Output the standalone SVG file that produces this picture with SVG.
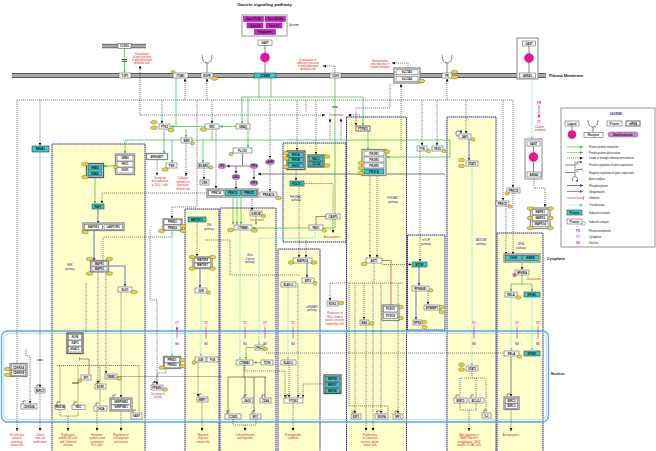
<svg xmlns="http://www.w3.org/2000/svg" width="656" height="451" viewBox="0 0 656 451">
<defs>
<style>
.p{fill:#fff;stroke:#555;stroke-width:.55}
.c{fill:#33cccc;stroke:#333;stroke-width:.55}
.gb{fill:#fff;stroke:#8a8a8a;stroke-width:1.3}
.gd{fill:#fff;stroke:#555;stroke-width:1.3}
.t{font-family:"Liberation Sans",Arial,sans-serif;font-size:2.7px;font-weight:bold;text-anchor:middle;fill:#111}
.ph{fill:#e8d52a;stroke:#555;stroke-width:.4}
.sm{fill:#d77ed7;stroke:#555;stroke-width:.4}
.mg{fill:#cc22cc;stroke:#771177;stroke-width:.5}
.r{font-family:"Liberation Sans",Arial,sans-serif;font-size:2.6px;fill:#e01818;text-anchor:middle}
.bl{font-family:"Liberation Sans",Arial,sans-serif;font-size:2.6px;fill:#2a2aa0;text-anchor:middle}
.cn{font-family:"Liberation Sans",Arial,sans-serif;font-size:2.6px;fill:#e010c8;text-anchor:middle;font-weight:bold}
.pw{fill:#ffffcc;stroke:#2e2e9a;stroke-width:1;stroke-dasharray:1.5 .5}
.d{fill:none;stroke:#222;stroke-width:.55;stroke-dasharray:1.2 .8}
.s{fill:none;stroke:#333;stroke-width:.6}
.gr{fill:none;stroke:#33bb33;stroke-width:.7}
.bu{fill:none;stroke:#2233bb;stroke-width:.7}
.cy{fill:none;stroke:#33dddd;stroke-width:.7;stroke-dasharray:1.2 .8}
.rd{fill:none;stroke:#e22;stroke-width:.7}
.mgl{fill:none;stroke:#e010c8;stroke-width:.7}
.lg{font-family:"Liberation Sans",Arial,sans-serif;font-size:2.6px;fill:#111}
.lab{font-family:"Liberation Sans",Arial,sans-serif;font-weight:bold;fill:#111}
</style>
<marker id="ab" viewBox="0 0 6 6" refX="6" refY="3" markerWidth="3" markerHeight="3" markerUnits="userSpaceOnUse" orient="auto"><path d="M0,0L6,3L0,6z" fill="#111"/></marker>
<marker id="as" viewBox="0 0 6 6" refX="6" refY="3" markerWidth="2" markerHeight="2" markerUnits="userSpaceOnUse" orient="auto"><path d="M0,0L6,3L0,6z" fill="#111"/></marker>
<marker id="ag" viewBox="0 0 6 6" refX="6" refY="3" markerWidth="3" markerHeight="3" markerUnits="userSpaceOnUse" orient="auto"><path d="M0,0L6,3L0,6z" fill="#33bb33"/></marker>
<marker id="au" viewBox="0 0 6 6" refX="6" refY="3" markerWidth="3" markerHeight="3" markerUnits="userSpaceOnUse" orient="auto"><path d="M0,0L6,3L0,6z" fill="#2233bb"/></marker>
<marker id="ac" viewBox="0 0 6 6" refX="6" refY="3" markerWidth="3" markerHeight="3" markerUnits="userSpaceOnUse" orient="auto"><path d="M0,0L6,3L0,6z" fill="#33dddd"/></marker>
<marker id="am" viewBox="0 0 6 6" refX="6" refY="3" markerWidth="3" markerHeight="3" markerUnits="userSpaceOnUse" orient="auto-start-reverse"><path d="M0,0L6,3L0,6z" fill="#e010c8"/></marker>
<marker id="tr" viewBox="0 0 2 8" refX="1" refY="4" markerWidth="1" markerHeight="4" markerUnits="userSpaceOnUse" orient="auto"><rect width="2" height="8" fill="#e22"/></marker>
</defs>
<rect width="656" height="451" fill="#fff"/>
<text class="lab" x="264.5" y="5.6" font-size="4.4" text-anchor="middle">Gastrin signaling pathway</text>

<g id="regions">
<rect class="pw" x="52" y="144" width="93" height="308"/>
<rect class="pw" x="185" y="209" width="34" height="243"/>
<rect class="pw" x="220" y="208" width="56" height="244"/>
<rect class="pw" x="278" y="249" width="42" height="203"/>
<rect class="pw" x="283" y="143" width="63" height="99"/>
<rect class="pw" x="346.5" y="117" width="60" height="335"/>
<rect class="pw" x="407.5" y="235" width="37.5" height="95"/>
<rect class="pw" x="447" y="117" width="49" height="335"/>
<rect class="pw" x="497" y="233" width="46" height="219"/>
</g>
<g id="region-labels">
<text class="bl" x="70" y="266">ERK</text><text class="bl" x="70" y="269.5">pathway</text>
<text class="bl" x="209" y="226">JNK</text><text class="bl" x="209" y="229.5">pathway</text>
<text class="bl" x="250" y="256">Beta</text><text class="bl" x="250" y="259.5">Catenin</text><text class="bl" x="250" y="263">pathway</text>
<text class="bl" x="296" y="197.5">RHO/RAC</text><text class="bl" x="296" y="201">pathway</text>
<text class="bl" x="312" y="307.5">p38MAPK</text><text class="bl" x="312" y="311">pathway</text>
<text class="bl" x="393" y="199">PI3K/AKT</text><text class="bl" x="393" y="202.5">pathway</text>
<text class="bl" x="426" y="241">mTOR</text><text class="bl" x="426" y="244.5">pathway</text>
<text class="bl" x="481" y="241">JAK/STAT</text><text class="bl" x="481" y="244.5">pathway</text>
<text class="bl" x="521" y="245">NFkB</text><text class="bl" x="521" y="248.5">pathway</text>
</g>

<g id="membrane">
<rect x="12" y="73.5" width="534" height="4" fill="#aaa"/>
<path d="M12,73.5H546M12,77.5H546" stroke="#222" stroke-width=".7"/>
<rect x="102" y="44.3" width="44" height="3.5" fill="#aaa"/>
<path d="M102,44.3H146M102,47.8H146" stroke="#222" stroke-width=".6"/>
<path class="s" d="M202,55Q202,63 207,63Q212,63 212,55M207,63V73"/>
<path class="s" d="M442,55Q442,63 447,63Q452,63 452,55M447,63V73"/>
<text class="lab" x="549" y="77.4" font-size="3.9">Plasma Membrane</text>
<text class="lab" x="547" y="259.5" font-size="3.5">Cytoplasm</text>
<text class="lab" x="551" y="374.5" font-size="3.5">Nucleus</text>
</g>

<g id="nucleus">
<rect x="1.5" y="331" width="547" height="91" rx="6" fill="none" stroke="#5aa6ea" stroke-width="1.3"/>
<rect x="3.8" y="333.3" width="542.4" height="86.4" rx="5" fill="none" stroke="#9fcdf2" stroke-width=".8"/>
</g>

<g id="connectors">
<path class="d" d="M17,100H513"/>
<path class="d" d="M17,100V431" marker-end="url(#ab)"/>
<path class="d" d="M40,100V145.5" marker-end="url(#ab)"/>
<path class="d" d="M40,152V387.5" marker-end="url(#ab)"/>
<path class="d" d="M40,393V431" marker-end="url(#ab)"/>
<path class="d" d="M26,349V356H30V403.5" marker-end="url(#ab)"/>
<path class="d" d="M162,100V123.5" marker-end="url(#ab)"/>
<path class="d" d="M185,100V78.5" marker-end="url(#ab)"/>
<path class="d" d="M207,100V78.5" marker-end="url(#ab)"/>
<path class="d" d="M140,115V65.5" marker-end="url(#ab)"/>
<path class="d" d="M140,115H325" marker-end="url(#ab)"/>
<path class="d" d="M360,115H348" marker-end="url(#ab)"/>
<path class="d" d="M330,140V118.5" marker-end="url(#ab)"/>
<path class="d" d="M341,140V118.5" marker-end="url(#ab)"/>
<path class="d" d="M197,100V207H172V218.5" marker-end="url(#ab)"/>
<path class="d" d="M204,168V179.5" marker-end="url(#ab)"/>
<path class="d" d="M212,100V123.5" marker-end="url(#ab)"/>
<path class="d" d="M216,129V188.5" marker-end="url(#ab)"/>
<path class="d" d="M157,159.5V175.5" marker-end="url(#ab)"/>
<path class="d" d="M186,143V176" marker-end="url(#ab)"/>
<path class="d" d="M270,100V158.5" marker-end="url(#ab)"/>
<path class="d" d="M270,165V191.5" marker-end="url(#ab)"/>
<path class="d" d="M297,100V150.5" marker-end="url(#ab)"/>
<path class="d" d="M316,100V154.5" marker-end="url(#ab)"/>
<path class="d" d="M296,169.5V180.5" marker-end="url(#ab)"/>
<path class="d" d="M299,186V257.5" marker-end="url(#ab)"/>
<path class="d" d="M306,100V112M306,240V257.5" marker-end="url(#ab)"/>
<path class="d" d="M333,219V233" marker-end="url(#ab)"/>
<path class="d" d="M252,197V210.5" marker-end="url(#ab)"/>
<path class="d" d="M207,193H102V203.5" marker-end="url(#ab)"/>
<path class="d" d="M103,260V237H172V230.5"/>
<path class="d" d="M197,222V256.5" marker-end="url(#ab)"/>
<path class="d" d="M205,240H230V275H300"/>
<path class="d" d="M401,150V84" marker-end="url(#ab)"/>
<path class="d" d="M408,68V63H392" marker-end="url(#ab)"/>
<path class="d" d="M335,73V66H323" marker-end="url(#ab)"/>
<path class="d" d="M390,84V108H356V125.5" marker-end="url(#ab)"/>
<path class="d" d="M422,100V145.5" marker-end="url(#ab)"/>
<path class="d" d="M437,100V145.5" marker-end="url(#ab)"/>
<path class="d" d="M447,100V78.5" marker-end="url(#ab)"/>
<path class="d" d="M466,100V133.5" marker-end="url(#ab)"/>
<path class="d" d="M420,151V261.5" marker-end="url(#ab)"/>
<path class="d" d="M370,176V257.5" marker-end="url(#ab)"/>
<path class="d" d="M377,176V257.5" marker-end="url(#ab)"/>
<path class="d" d="M382,264.5H411.5" marker-end="url(#ab)"/>
<path class="d" d="M374,263V283M330,283H403"/>
<path class="d" d="M330,283V300.5" marker-end="url(#ab)"/>
<path class="d" d="M355,283V413.5" marker-end="url(#ab)"/>
<path class="d" d="M364,283V319.5" marker-end="url(#ab)"/>
<path class="d" d="M381,283V413.5" marker-end="url(#ab)"/>
<path class="d" d="M398,283V304.5M398,321V413.5" marker-end="url(#ab)"/>
<path class="d" d="M366,325V431" marker-end="url(#ab)"/>
<path class="d" d="M373,283V431" marker-end="url(#ab)"/>
<path class="d" d="M349,283V406H388V413.5"/>
<path class="d" d="M428,291V304.5" marker-end="url(#ab)"/>
<path class="d" d="M503,100V200.5" marker-end="url(#ab)"/>
<path class="d" d="M513,100V187.5" marker-end="url(#ab)"/>
<path class="d" d="M513,193V254.5" marker-end="url(#ab)"/>
<path class="d" d="M506,206V254.5" marker-end="url(#ab)"/>
<path class="d" d="M534,177V188H545V207" marker-end="url(#ab)"/>
<path class="d" d="M522,260.5V269.5" marker-end="url(#ab)"/>
<path class="d" d="M511,409.5V431" marker-end="url(#ab)"/>
<path class="d" d="M266,353H503.5"/>
<path class="d" d="M472,371V378M460,378H486M460,378V397.5M476,378V397.5M486,378V412.5"/>
<path class="d" d="M460,403V410H476V403M469,410V431" marker-end="url(#ab)"/>
<path class="d" d="M198,362.5V396.5" marker-end="url(#ab)"/>
<path class="d" d="M202,402.5V431" marker-end="url(#ab)"/>
<path class="d" d="M117.5,376.5H222"/>
<path class="d" d="M98,273V383.5" marker-end="url(#ab)"/>
<path class="d" d="M106,273V373.5" marker-end="url(#ab)"/>
<path class="d" d="M121,292.5V397.5" marker-end="url(#ab)"/>
<path class="d" d="M57,365.5H139M60,365.5V404.5M78,365.5V404.5M100,365.5V405.5M139,365.5V412.5"/>
<path class="d" d="M60,410V416H78V410M68,416V431" marker-end="url(#ab)"/>
<path class="d" d="M97,411V431" marker-end="url(#ab)"/>
<path class="d" d="M121,411V431" marker-end="url(#ab)"/>
<path class="d" d="M166,368.5V373H157V384.5" marker-end="url(#ab)"/>
<path class="d" d="M298,283V397.5" marker-end="url(#ab)"/>
<path class="d" d="M289,365V397.5" marker-end="url(#ab)"/>
<path class="d" d="M245,365V371H285V397.5" marker-end="url(#ab)"/>
<path class="d" d="M324,384H303V397.5" marker-end="url(#ab)"/>
<path class="d" d="M293,403V431" marker-end="url(#ab)"/>
<path class="d" d="M233,419V425H256V419M245,425V431" marker-end="url(#ab)"/>
<path class="d" d="M86,283V333"/>
<path class="d" d="M150,230V300H157V384"/>
<path class="s" d="M242.5,153V166M250,166H226.5" marker-end="url(#ab)"/>
<path class="s" d="M236,166V173.5" marker-end="url(#ab)"/>
<path class="s" d="M254,169V179.5" marker-end="url(#ab)"/>
<path class="s" d="M236,180.5V189.5" marker-end="url(#ab)"/>
<path d="M445,174H258" fill="none" stroke="#555" stroke-width=".8" marker-end="url(#ab)"/>
<path class="s" d="M244,365V377M228,377H266M228,377V413.5M245,377V397.5M254,377V413.5M265,377V397.5"/>
<path class="s" d="M511,356.5V396.5" marker-end="url(#ab)"/>
<path d="M122,59.5H127M122,61.3H127M332,107H338M37,360H43M72,383H79" stroke="#111" stroke-width=".8"/>
<path class="gr" d="M124.5,48.5V72.5" marker-end="url(#ag)"/>
<path class="gr" d="M259,78V97M271,78V97M241,97H363"/>
<path class="gr" d="M242,97V123.5" marker-end="url(#ag)"/>
<path class="gr" d="M248,97V147.5" marker-end="url(#ag)"/>
<path class="gr" d="M363,97V125.5" marker-end="url(#ag)"/>
<path class="gr" d="M368,131V150.5" marker-end="url(#ag)"/>
<path class="gr" d="M176,78V126.5H170.5" marker-end="url(#ag)"/>
<path class="gr" d="M205,126.5H176"/>
<path class="gr" d="M236,126.5H219.5" marker-end="url(#ag)"/>
<path class="gr" d="M212,129V140M125,140H450"/>
<path class="gr" d="M125,140V153.5" marker-end="url(#ag)"/>
<path class="gr" d="M172,140V162.5" marker-end="url(#ag)"/>
<path class="gr" d="M203,140V162.5" marker-end="url(#ag)"/>
<path class="gr" d="M186,129V137.5" marker-end="url(#ag)"/>
<path class="gr" d="M164,129.5V153.5" marker-end="url(#ag)"/>
<path class="gr" d="M450,140V157H386.5" marker-end="url(#ag)"/>
<path class="gr" d="M116,166H103.5" marker-end="url(#ag)"/>
<path class="gr" d="M95,177.5V203.5" marker-end="url(#ag)"/>
<path class="gr" d="M335,78V228H252.5" marker-end="url(#ag)"/>
<path class="gr" d="M233,196V224.5" marker-end="url(#ag)"/>
<path class="gr" d="M237,196V224.5" marker-end="url(#ag)"/>
<path class="gr" d="M241,196V224.5" marker-end="url(#ag)"/>
<path class="gr" d="M256,216.5V224.5" marker-end="url(#ag)"/>
<path class="gr" d="M522,275V284M511,284H532"/>
<path class="gr" d="M511,284V291.5" marker-end="url(#ag)"/>
<path class="gr" d="M532,284V291.5" marker-end="url(#ag)"/>
<path class="gr" d="M261,362.5H253.5" marker-end="url(#ag)"/>
<path class="gr" d="M255,347.5H246V359.5" marker-end="url(#ag)"/>
<path class="bu" d="M98,209V223.5" marker-end="url(#au)"/>
<path class="bu" d="M94,229.8V261" marker-end="url(#au)"/>
<path class="bu" d="M109,266H125V286.5" marker-end="url(#au)"/>
<path class="bu" d="M200,268V287.5" marker-end="url(#au)"/>
<path class="bu" d="M307,263V277.5" marker-end="url(#au)"/>
<path class="bu" d="M419,267V285.5" marker-end="url(#au)"/>
<path class="bu" d="M416,291V319.5" marker-end="url(#au)"/>
<path class="bu" d="M469,139V160.5" marker-end="url(#au)"/>
<path class="bu" d="M459,136A2.6,2.6 0 1,1 461,133.5" marker-end="url(#au)"/>
<path class="rd" d="M316,225V216.5H325" marker-end="url(#tr)"/>
<path class="rd" d="M304,183.5H333V212.5" stroke-dasharray="1 .7"/>
<path class="rd" d="M382,260.5H391V304" marker-end="url(#tr)"/>
<path class="rd" d="M89,374.5V359H79" marker-end="url(#tr)"/>
<path class="cy" d="M532,80V139.5" marker-end="url(#ac)"/>
<path class="cy" d="M172,231V356.5" marker-end="url(#ac)"/>
<path class="cy" d="M201,293V356.5" marker-end="url(#ac)"/>
<path class="cy" d="M240,231V359.5" marker-end="url(#ac)"/>
<path class="cy" d="M315,230V238H259V344.5" marker-end="url(#ac)"/>
<path class="cy" d="M288,287V359.5" marker-end="url(#ac)"/>
<path class="cy" d="M472,166V365.5" marker-end="url(#ac)"/>
<path class="cy" d="M511,297.5V350.5" marker-end="url(#ac)"/>
<path class="cy" d="M532,297V350.5" marker-end="url(#ac)"/>
<path class="mgl" d="M177,326.5V338.5M206,326.5V338.5M245,326.5V338.5M265,326.5V338.5M293,326.5V338.5M474,326.5V338.5M517,326.5V338.5M538,326.5V338.5M539,105V118" marker-start="url(#am)" marker-end="url(#am)"/>
<path class="s" d="M57,405V402H60M74,405V402H77M96,406V403H99M113,398V395H116M133,413V410H136M97,384V381H100M23,404V401H26M37,388V385H40M244,398V395H247M262,398V395H265M227,414V411H230M252,414V411H255M286,398V395H289M353,414V411H356M377,414V411H380M395,414V411H398M456,398V395H459M471,398V395H474M484,413V410H487M507,397V394H510M199,397V394H202M153,385V382H156" marker-end="url(#as)"/>
</g>

<g id="notes">
<text class="r" x="142" y="55">Dissociation</text><text class="r" x="142" y="58">of tight junctions</text><text class="r" x="142" y="61">in gastrointestinal</text><text class="r" x="142" y="64">epithelial cells</text>
<text class="r" x="308" y="61">Dissociation of</text><text class="r" x="308" y="64">adherens junctions</text><text class="r" x="308" y="67">in gastrointestinal</text><text class="r" x="308" y="70">epithelial cells</text>
<text class="r" x="380" y="62">Internalization</text><text class="r" x="380" y="65">and reduction in</text><text class="r" x="380" y="68">sodium transport</text>
<text class="r" x="336.5" y="116">Dissociation</text>
<text class="r" x="540" y="127.5">Clathrin-</text><text class="r" x="540" y="130.5">mediated</text>
<text class="r" x="160" y="178.5">Increased</text><text class="r" x="160" y="182">focal adhesion</text><text class="r" x="160" y="185.5">in DLD-1 cells</text>
<text class="r" x="183" y="179">Collagen</text><text class="r" x="183" y="182.5">synthesis in</text><text class="r" x="183" y="186">pancreatic</text><text class="r" x="183" y="189.5">stellate cells</text>
<text class="r" x="332" y="237.5">Anti-apoptosis</text>
<text class="r" x="257" y="220.5">Dissociation</text>
<text class="r" x="534" y="279.5">Dissociation</text>
<text class="r" x="335" y="314">Production of</text><text class="r" x="335" y="317.5">Nitric Oxide in</text><text class="r" x="335" y="321">gastric secretory</text><text class="r" x="335" y="324.5">endothelial cells</text>
<text class="r" x="158" y="394.5">Decrease in</text><text class="r" x="158" y="398">activity</text>
<text class="r" x="17" y="435.5">G1 cell cycle</text><text class="r" x="17" y="439">arrest in</text><text class="r" x="17" y="442.5">pancreatic</text><text class="r" x="17" y="446">acinar cells</text>
<text class="r" x="40" y="435.5">Colonic</text><text class="r" x="40" y="439">stem cell</text><text class="r" x="40" y="442.5">proliferation</text>
<text class="r" x="68" y="435.5">Proliferation</text><text class="r" x="68" y="439">in AGS-GR cells</text><text class="r" x="68" y="442.5">and Colorectal</text><text class="r" x="68" y="446">mucosa</text>
<text class="r" x="97" y="435.5">Histamine</text><text class="r" x="97" y="439">synthesis and</text><text class="r" x="97" y="442.5">secretion in</text><text class="r" x="97" y="446">ECL cells</text>
<text class="r" x="121" y="435.5">Regulation of</text><text class="r" x="121" y="439">cell migration</text><text class="r" x="121" y="442.5">and invasion</text>
<text class="r" x="203" y="435.5">Migration</text><text class="r" x="203" y="439">of gastric</text><text class="r" x="203" y="442.5">cancer cells</text>
<text class="r" x="245" y="435.5">Cell proliferation</text><text class="r" x="245" y="439">and migration</text>
<text class="r" x="293" y="435.5">Prostaglandin</text><text class="r" x="293" y="439">synthesis</text>
<text class="r" x="370" y="435.5">Proliferation</text><text class="r" x="370" y="439">in Colorectal</text><text class="r" x="370" y="442.5">mucosa, gastric</text><text class="r" x="370" y="446">cancer cells</text>
<text class="r" x="469" y="435.5">Anti-apoptosis in</text><text class="r" x="469" y="439">WEHI7 Barrett's</text><text class="r" x="469" y="442.5">oesophageal, OE33</text><text class="r" x="469" y="446">and BIC-1 OAC cells</text>
<text class="r" x="511" y="435.5">Anti-apoptosis</text>
<text class="cn" x="177" y="324">CY</text><text class="cn" x="177" y="344.5">NU</text>
<text class="cn" x="206" y="324">CY</text><text class="cn" x="206" y="344.5">NU</text>
<text class="cn" x="245" y="324">CY</text><text class="cn" x="245" y="344.5">NU</text>
<text class="cn" x="265" y="324">CY</text><text class="cn" x="265" y="344.5">NU</text>
<text class="cn" x="293" y="324">CY</text><text class="cn" x="293" y="344.5">NU</text>
<text class="cn" x="474" y="324">CY</text><text class="cn" x="474" y="344.5">NU</text>
<text class="cn" x="517" y="324">CY</text><text class="cn" x="517" y="344.5">NU</text>
<text class="cn" x="538" y="324">CY</text><text class="cn" x="538" y="344.5">NU</text>
<text class="cn" x="539" y="104">PM</text><text class="cn" x="539" y="123">CY</text>
</g>

<g id="nodes">
<g id="gastrin"><rect x="242" y="15" width="45" height="21" fill="#fff" stroke="#999" stroke-width="1"/>
<rect class="mg" x="243.5" y="16.5" width="20" height="5"/><text class="t" x="253.5" y="20">Gast-17-Gly</text>
<rect class="mg" x="265" y="16.5" width="20.5" height="5"/><text class="t" x="275.2" y="20">Gast-34-Gly</text>
<rect class="mg" x="247" y="23" width="16" height="5"/><text class="t" x="255" y="26.5">Gast-34</text>
<rect class="mg" x="266" y="23" width="16" height="5"/><text class="t" x="274" y="26.5">Gast-17</text>
<rect class="mg" x="254.5" y="29.5" width="21" height="5"/><text class="t" x="265" y="33">Progastrin</text>
<text class="lg" x="289" y="26.3" font-size="3">Gastrine</text></g>
<g id="n-GAST"><rect class="p" x="258" y="40" width="14" height="5.5"/><text class="t" x="265" y="43.8">GAST</text>
<path class="s" d="M265,45.5V53M265,62V73.5"/><circle cx="265" cy="57.5" r="4.5" fill="#ee1199" stroke="#aa0066" stroke-width=".4"/></g>
<g id="n-CCKBR"><rect class="c" x="254" y="73" width="22" height="5"/><text class="t" x="265" y="76.5">CCKBR</text></g>
<g id="n-CLDN1"><rect class="p" x="118" y="43.5" width="13" height="5"/><text class="t" x="124.5" y="47">CLDN1</text></g>
<g id="n-TJP1"><rect class="p" x="119" y="73" width="12" height="5"/><text class="t" x="125" y="76.5">TJP1</text></g>
<g id="n-ITGB1"><rect class="p" x="173" y="73" width="15" height="5"/><text class="t" x="180.5" y="76.5">ITGB1</text><ellipse class="ph" cx="173" cy="72" rx="2" ry="1.8"/></g>
<g id="n-EGFR"><rect class="p" x="201" y="73" width="12" height="5"/><text class="t" x="207" y="76.5">EGFR</text><ellipse class="ph" cx="214.5" cy="78.5" rx="3.5" ry="1.8"/></g>
<g id="n-CDH1"><rect class="p" x="330" y="73" width="11" height="5"/><text class="t" x="335.5" y="76.5">CDH1</text></g>
<g id="n-SLC"><rect class="gb" x="394" y="68" width="26" height="15"/><rect class="p" x="396" y="69.8" width="22" height="5"/><text class="t" x="407" y="73.3">SLC5A1</text><rect class="p" x="396" y="76.2" width="22" height="5"/><text class="t" x="407" y="79.7">SLC5A2</text><ellipse class="ph" cx="421.5" cy="81" rx="3.5" ry="1.8"/></g>
<g id="n-FR"><rect class="p" x="442" y="73" width="10" height="5"/><text class="t" x="447" y="76.5">FR</text><ellipse class="ph" cx="454.5" cy="72" rx="3.5" ry="1.8"/><ellipse class="ph" cx="454.5" cy="77" rx="3.5" ry="1.8"/></g>
<g id="n-ANXA2"><rect x="517" y="38" width="21" height="41" fill="#fff" stroke="#888" stroke-width="1"/><rect class="p" x="522.5" y="41" width="13" height="5"/><text class="t" x="529" y="44.5">GAST</text>
<path class="s" d="M529,46V53.5M529,62.5V73"/><circle cx="529" cy="58" r="4.5" fill="#ee1199" stroke="#aa0066" stroke-width=".4"/>
<rect class="p" x="519.5" y="73" width="16" height="5"/><text class="t" x="527.5" y="76.5">ANXA2</text></g>

<g id="n-NR4A1"><rect class="c" x="32" y="146" width="17" height="6"/><text class="t" x="40.5" y="150">NR4A1</text></g>
<g id="n-RAS"><rect class="gd" x="86.5" y="163.5" width="17" height="14"/><rect class="c" x="88" y="165" width="14" height="5"/><text class="t" x="95" y="168.5">HRAS</text><rect class="c" x="88" y="171" width="14" height="5"/><text class="t" x="95" y="174.5">KRAS</text><ellipse class="ph" cx="85" cy="164" rx="3.3" ry="1.8"/><ellipse class="ph" cx="85" cy="177" rx="3.3" ry="1.8"/></g>
<g id="n-GRB2"><rect class="gb" x="115.5" y="154" width="19" height="20.5"/><rect class="p" x="117" y="155.5" width="16" height="5.5"/><text class="t" x="125" y="159.2">GRB2</text><rect class="p" x="117" y="161.5" width="16" height="5.5"/><text class="t" x="125" y="165.2">SHC1</text><rect class="p" x="117" y="167.5" width="16" height="5.5"/><text class="t" x="125" y="171.2">SOS1</text><ellipse class="ph" cx="115.5" cy="167" rx="2" ry="1.8"/></g>
<g id="n-RAF1"><rect class="c" x="92" y="204" width="12" height="5"/><text class="t" x="98" y="207.5">RAF1</text></g>
<g id="n-MAP2K1"><rect class="gb" x="83" y="223" width="41" height="7.5"/><rect class="p" x="84.5" y="224.3" width="18" height="5"/><text class="t" x="93.5" y="227.8">MAP2K1</text><rect class="p" x="104" y="224.3" width="18.5" height="5"/><text class="t" x="113.2" y="227.8">LAMTOR3</text><ellipse class="ph" cx="85" cy="232" rx="3.3" ry="1.8"/></g>
<g id="n-MAPK"><rect class="gb" x="90.5" y="260.5" width="18" height="11.5"/><rect class="p" x="92" y="261.5" width="15" height="4.5"/><text class="t" x="99.5" y="264.8">MAPK1</text><rect class="p" x="92" y="266.5" width="15" height="4.5"/><text class="t" x="99.5" y="269.8">MAPK3</text><ellipse class="ph" cx="89.5" cy="259" rx="3.3" ry="1.8"/><ellipse class="ph" cx="109.5" cy="259" rx="3.3" ry="1.8"/><ellipse class="ph" cx="89.5" cy="273.5" rx="3.3" ry="1.8"/><ellipse class="ph" cx="109.5" cy="273.5" rx="3.3" ry="1.8"/></g>
<g id="n-ELK1"><rect class="p" x="118" y="287" width="14" height="5"/><text class="t" x="125" y="290.5">ELK1</text><ellipse class="ph" cx="134" cy="292" rx="3.3" ry="1.8"/></g>
<g id="n-PTK2"><rect class="p" x="159" y="124" width="11" height="5"/><text class="t" x="164.5" y="127.5">PTK2</text><ellipse class="ph" cx="154" cy="122.3" rx="3.3" ry="1.8"/><ellipse class="ph" cx="154" cy="127.7" rx="3.3" ry="1.8"/><ellipse class="ph" cx="171" cy="130" rx="3.3" ry="1.8"/></g>
<g id="n-BMX"><rect class="p" x="181" y="138" width="11" height="5"/><text class="t" x="186.5" y="141.5">BMX</text><ellipse class="ph" cx="192.5" cy="143.5" rx="2" ry="1.8"/></g>
<g id="n-SRC"><rect class="p" x="205" y="124" width="14" height="5"/><text class="t" x="212" y="127.5">SRC</text><ellipse class="ph" cx="203.5" cy="129.5" rx="3.3" ry="1.8"/></g>
<g id="n-ARHGEF7"><rect class="gb" x="146.5" y="153.5" width="21" height="6"/><text class="t" x="157" y="157.5">ARHGEF7</text></g>
<g id="n-PXN"><rect class="p" x="166" y="163" width="11" height="5"/><text class="t" x="171.5" y="166.5">PXN</text><ellipse class="ph" cx="165" cy="169.5" rx="3.3" ry="1.8"/></g>
<g id="n-BCAR1"><rect class="p" x="198" y="163" width="11" height="5"/><text class="t" x="203.5" y="166.5">BCAR1</text><ellipse class="ph" cx="211" cy="167.5" rx="2" ry="1.8"/></g>
<g id="n-CRK"><rect class="p" x="200" y="180" width="9" height="5"/><text class="t" x="204.5" y="183.5">CRK</text></g>
<g id="n-GNAQ"><rect class="p" x="236" y="124" width="14" height="5"/><text class="t" x="243" y="127.5">GNAQ</text></g>
<g id="n-PLCG1"><rect class="p" x="233" y="148" width="19" height="5"/><text class="t" x="242.5" y="151.5">PLCG1</text><ellipse class="ph" cx="231" cy="154" rx="2" ry="1.8"/></g>
<g id="n-IP3"><ellipse class="sm" cx="222" cy="166" rx="4" ry="2.6"/><text class="t" x="222" y="167">IP3</text></g>
<g id="n-PIP2"><ellipse class="sm" cx="254" cy="166" rx="4" ry="2.6"/><text class="t" x="254" y="167">PIP2</text></g>
<g id="n-DAG"><ellipse class="sm" cx="236" cy="177" rx="4" ry="2.6"/><text class="t" x="236" y="178">DAG</text></g>
<g id="n-PIP3"><ellipse class="sm" cx="254" cy="183" rx="4" ry="2.6"/><text class="t" x="254" y="184">PIP3</text></g>
<g id="n-cAMP"><ellipse class="sm" cx="270" cy="162" rx="4.5" ry="2.8"/><text class="t" x="270" y="163">cAMP</text></g>
<g id="n-PRKC"><rect class="gb" x="207" y="189" width="51" height="8"/><rect class="p" x="208.5" y="190.5" width="15.5" height="5"/><text class="t" x="216.2" y="194">PRKCA</text><rect class="c" x="225" y="190.5" width="15.5" height="5"/><text class="t" x="232.7" y="194">PRKCD</text><rect class="c" x="241.5" y="190.5" width="15.5" height="5"/><text class="t" x="249.2" y="194">PRKCE</text></g>
<g id="n-PRKACA"><rect class="p" x="260" y="192" width="17" height="5"/><text class="t" x="268.5" y="195.5">PRKACA</text><ellipse class="ph" cx="278.5" cy="198" rx="3" ry="1.8"/></g>
<g id="n-RHO"><rect class="gd" x="287" y="151" width="18" height="18.5"/><rect class="c" x="288.5" y="152.5" width="15" height="4.8"/><text class="t" x="296" y="155.9">RHOA</text><rect class="c" x="288.5" y="157.8" width="15" height="4.8"/><text class="t" x="296" y="161.2">RHOB</text><rect class="c" x="288.5" y="163.1" width="15" height="4.8"/><text class="t" x="296" y="166.5">RHOC</text><ellipse class="ph" cx="286" cy="153" rx="3" ry="1.8"/><ellipse class="ph" cx="286" cy="158.5" rx="3" ry="1.8"/><ellipse class="ph" cx="286" cy="167" rx="3" ry="1.8"/></g>
<g id="n-RAC1"><rect class="gd" x="308" y="155" width="16" height="12"/><rect class="c" x="309.5" y="156.5" width="13" height="4.5"/><text class="t" x="316" y="159.8">RAC1</text><rect class="c" x="309.5" y="161.5" width="13" height="4.5"/><text class="t" x="316" y="164.8">CDC42</text><ellipse class="ph" cx="327" cy="156.5" rx="3" ry="1.8"/><ellipse class="ph" cx="327" cy="165.5" rx="3" ry="1.8"/></g>
<g id="n-ROCK1"><rect class="c" x="290" y="181" width="14" height="5"/><text class="t" x="297" y="184.5">ROCK1</text></g>
<g id="n-CASP3"><rect class="p" x="326" y="214" width="14" height="5"/><text class="t" x="333" y="217.5">CASP3</text></g>
<g id="n-PAK1"><rect class="p" x="309" y="225" width="14" height="5"/><text class="t" x="316" y="228.5">PAK1</text><ellipse class="ph" cx="324.5" cy="230.5" rx="2" ry="1.8"/></g>
<g id="n-PTPN11"><rect class="gb" x="356" y="126" width="14" height="5"/><text class="t" x="363" y="129.5">PTPN11</text></g>
<g id="n-PIK3"><rect class="gb" x="362" y="149.5" width="24" height="26"/><rect class="p" x="364" y="151" width="20" height="5"/><text class="t" x="374" y="154.5">PIK3R1</text><rect class="p" x="364" y="157" width="20" height="5"/><text class="t" x="374" y="160.5">PIK3R2</text><rect class="p" x="364" y="163" width="20" height="5"/><text class="t" x="374" y="166.5">PIK3R3</text><rect class="c" x="364" y="169" width="20" height="5"/><text class="t" x="374" y="172.5">PIK3CA</text><ellipse class="ph" cx="387" cy="151.5" rx="3" ry="1.8"/><ellipse class="ph" cx="361" cy="163" rx="3" ry="1.8"/><ellipse class="ph" cx="361" cy="168" rx="3" ry="1.8"/><ellipse class="ph" cx="361" cy="173" rx="3" ry="1.8"/></g>
<g id="n-AKT1"><rect class="p" x="366" y="258" width="16" height="5"/><text class="t" x="374" y="261.5">AKT1</text><ellipse class="ph" cx="364" cy="264" rx="3" ry="1.8"/></g>
<g id="n-FYN"><rect class="p" x="417" y="146" width="10" height="5"/><text class="t" x="422" y="149.5">FYN</text><ellipse class="ph" cx="428.5" cy="151" rx="2" ry="1.8"/></g>
<g id="n-YES1"><rect class="p" x="432" y="146" width="11" height="5"/><text class="t" x="437.5" y="149.5">YES1</text><ellipse class="ph" cx="444" cy="151" rx="2" ry="1.8"/></g>
<g id="n-JAK1"><rect class="p" x="459" y="134" width="12" height="5"/><text class="t" x="465" y="137.5">JAK1</text><ellipse class="ph" cx="473" cy="139.5" rx="2" ry="1.8"/></g>
<g id="n-STAT3"><rect class="p" x="466" y="161" width="12" height="5"/><text class="t" x="472" y="164.5">STAT3</text><ellipse class="ph" cx="461.5" cy="160" rx="3" ry="1.8"/><ellipse class="ph" cx="461.5" cy="166" rx="3" ry="1.8"/></g>
<g id="n-MTOR"><rect class="c" x="412" y="262" width="15" height="5"/><text class="t" x="419.5" y="265.5">MTOR</text></g>
<g id="n-RPS6KB1"><rect class="p" x="412" y="286" width="17" height="5"/><text class="t" x="420.5" y="289.5">RPS6KB1</text><ellipse class="ph" cx="431" cy="290.5" rx="2" ry="1.8"/></g>
<g id="n-EIF4EBP1"><rect class="p" x="424" y="305" width="16" height="5"/><text class="t" x="432" y="308.5">EIF4EBP1</text><ellipse class="ph" cx="441.5" cy="307" rx="2.5" ry="1.8"/><ellipse class="ph" cx="441.5" cy="312" rx="2.5" ry="1.8"/></g>
<g id="n-RPS6"><rect class="p" x="413" y="320" width="9" height="5"/><text class="t" x="417.5" y="323.5">RPS6</text><ellipse class="ph" cx="424.5" cy="322" rx="2.5" ry="1.8"/><ellipse class="ph" cx="424.5" cy="327" rx="2.5" ry="1.8"/></g>
<g id="n-PRKCE2"><rect class="p" x="507" y="188" width="13" height="5"/><text class="t" x="513.5" y="191.5">PRKCE</text><ellipse class="ph" cx="507" cy="193.5" rx="2" ry="1.8"/></g>
<g id="n-PRKCD2"><rect class="p" x="496" y="201" width="13" height="5"/><text class="t" x="502.5" y="204.5">PRKCD</text><ellipse class="ph" cx="510" cy="206.5" rx="2" ry="1.8"/></g>
<g id="n-MAPKs"><rect class="gb" x="530.5" y="208" width="19.5" height="20.5"/><rect class="p" x="532.5" y="209.5" width="15.5" height="5"/><text class="t" x="540.2" y="213">MAPK1</text><rect class="p" x="532.5" y="215.5" width="15.5" height="5"/><text class="t" x="540.2" y="219">MAPK3</text><rect class="p" x="532.5" y="221.5" width="15.5" height="5"/><text class="t" x="540.2" y="225">MAPK14</text><ellipse class="ph" cx="530" cy="208.5" rx="3" ry="1.8"/><ellipse class="ph" cx="550.5" cy="208.5" rx="3" ry="1.8"/><ellipse class="ph" cx="530" cy="218" rx="3" ry="1.8"/><ellipse class="ph" cx="550.5" cy="218" rx="3" ry="1.8"/><ellipse class="ph" cx="530" cy="228" rx="3" ry="1.8"/><ellipse class="ph" cx="550.5" cy="228" rx="3" ry="1.8"/></g>
<g id="n-GAST2"><rect x="525" y="139" width="17" height="40" fill="#fff" stroke="#888" stroke-width="1"/><rect class="p" x="527" y="141" width="13" height="5"/><text class="t" x="533.5" y="144.5">GAST</text>
<path class="s" d="M533.5,146V152.5M533.5,161.5V172"/><circle cx="533.5" cy="157" r="4.5" fill="#ee1199" stroke="#aa0066" stroke-width=".4"/>
<rect class="p" x="527" y="172" width="14" height="5"/><text class="t" x="534" y="175.5">ANXA2</text></g>
<g id="n-IKK"><rect class="gb" x="504" y="254" width="36" height="8"/><rect class="c" x="505.5" y="255.5" width="16" height="5"/><text class="t" x="513.5" y="259">CHUK</text><rect class="c" x="522.5" y="255.5" width="16" height="5"/><text class="t" x="530.5" y="259">IKBKB</text></g>
<g id="n-NFKBIA"><rect class="p" x="515" y="270" width="14" height="5"/><text class="t" x="522" y="273.5">NFKBIA</text><circle cx="514.5" cy="275" r="1.8" fill="#c070c0" stroke="#555" stroke-width=".4"/></g>
<g id="n-RELA"><rect class="p" x="505" y="292" width="12" height="5"/><text class="t" x="511" y="295.5">RELA</text><ellipse class="ph" cx="518.5" cy="297.5" rx="2.5" ry="1.8"/></g>
<g id="n-NFKB1"><rect class="c" x="524" y="292" width="16" height="5"/><text class="t" x="532" y="295.5">NFKB1</text></g>
<g id="n-PRKD"><rect class="gb" x="163" y="219" width="19" height="11"/><rect class="p" x="164" y="219.5" width="17" height="5"/><text class="t" x="172.5" y="223">PRKD1</text><rect class="p" x="164" y="225" width="17" height="5"/><text class="t" x="172.5" y="228.5">PRKD2</text><ellipse class="ph" cx="161.5" cy="231" rx="3" ry="1.8"/><ellipse class="ph" cx="183" cy="226" rx="3" ry="1.8"/><ellipse class="ph" cx="183" cy="231" rx="3" ry="1.8"/></g>
<g id="n-MAP3K11"><rect class="c" x="188" y="217" width="18" height="5"/><text class="t" x="197" y="220.5">MAP3K11</text></g>
<g id="n-MAP2K4"><rect class="gb" x="193" y="257" width="19" height="11.5"/><rect class="p" x="194.5" y="258" width="16" height="4.7"/><text class="t" x="202.5" y="261.4">MAP2K4</text><rect class="p" x="194.5" y="263" width="16" height="4.7"/><text class="t" x="202.5" y="266.4">MAP2K7</text><ellipse class="ph" cx="192" cy="257" rx="3" ry="1.8"/><ellipse class="ph" cx="212.5" cy="257" rx="3" ry="1.8"/><ellipse class="ph" cx="192" cy="268.5" rx="3" ry="1.8"/><ellipse class="ph" cx="212.5" cy="268.5" rx="3" ry="1.8"/></g>
<g id="n-JUN"><rect class="p" x="195" y="288" width="12" height="5"/><text class="t" x="201" y="291.5">JUN</text><ellipse class="ph" cx="208.5" cy="292.5" rx="2" ry="1.8"/></g>
<g id="n-GSK3B"><rect class="p" x="250" y="211" width="12" height="5"/><text class="t" x="256" y="214.5">GSK3B</text><ellipse class="ph" cx="263.5" cy="216" rx="2" ry="1.8"/></g>
<g id="n-CTNNB1"><rect class="p" x="234" y="225" width="18" height="5"/><text class="t" x="243" y="228.5">CTNNB1</text><ellipse class="ph" cx="230.5" cy="230" rx="3" ry="1.8"/><ellipse class="ph" cx="254.5" cy="230.5" rx="3" ry="1.8"/></g>
<g id="n-MAPK14"><rect class="p" x="293" y="258" width="19" height="5"/><text class="t" x="302.5" y="261.5">MAPK14</text><ellipse class="ph" cx="291" cy="262.5" rx="3" ry="1.8"/><ellipse class="ph" cx="314" cy="262.5" rx="3" ry="1.8"/></g>
<g id="n-ATF2"><rect class="p" x="302" y="278" width="12" height="5"/><text class="t" x="308" y="281.5">ATF2</text><ellipse class="ph" cx="315" cy="283" rx="2" ry="1.8"/></g>
<g id="n-ELAVL1"><rect class="p" x="281" y="282" width="15" height="5"/><text class="t" x="288.5" y="285.5">ELAVL1</text></g>
<g id="n-NOS2"><rect class="p" x="327" y="301" width="11" height="5"/><text class="t" x="332.5" y="304.5">NOS2</text><ellipse class="ph" cx="341" cy="303" rx="3" ry="1.8"/></g>
<g id="n-BAD"><rect class="p" x="360" y="320" width="9" height="5"/><text class="t" x="364.5" y="323.5">BAD</text><ellipse class="ph" cx="371.5" cy="323.5" rx="2.5" ry="1.8"/></g>
<g id="n-FOXO"><rect class="gb" x="382" y="305" width="17" height="15.5"/><rect class="p" x="383.5" y="306.5" width="14" height="5.5"/><text class="t" x="390.5" y="310.2">FOXO1</text><rect class="p" x="383.5" y="313" width="14" height="5.5"/><text class="t" x="390.5" y="316.7">FOXO3</text><ellipse class="ph" cx="401" cy="307" rx="2.5" ry="1.8"/><ellipse class="ph" cx="401" cy="318" rx="2.5" ry="1.8"/></g>

<g id="n-CDKN1"><rect class="gb" x="10" y="363.5" width="17" height="13"/><rect class="p" x="11.5" y="365" width="14" height="5"/><text class="t" x="18.5" y="368.5">CDKN1A</text><rect class="p" x="11.5" y="370.5" width="14" height="5"/><text class="t" x="18.5" y="374">CDKN1B</text><ellipse class="ph" cx="7.5" cy="369" rx="3" ry="1.8"/><ellipse class="ph" cx="7.5" cy="375" rx="3" ry="1.8"/></g>
<g id="n-CDKN2A"><rect class="p" x="21" y="404" width="16" height="5"/><text class="t" x="29" y="407.5">CDKN2A</text></g>
<g id="n-BIRC5a"><rect class="p" x="35" y="388" width="10" height="5"/><text class="t" x="40" y="391.5">BIRC5</text></g>
<g id="n-KLF4"><rect class="gd" x="67" y="333" width="16" height="20.5"/><rect class="p" x="68.5" y="334.5" width="13" height="5.5"/><text class="t" x="75" y="338.2">KLF4</text><rect class="p" x="68.5" y="340.5" width="13" height="5.5"/><text class="t" x="75" y="344.2">KAT5</text><rect class="p" x="68.5" y="346.5" width="13" height="5.5"/><text class="t" x="75" y="350.2">HDAC1</text></g>
<g id="n-SP1"><rect class="p" x="81" y="375" width="10" height="5"/><text class="t" x="86" y="378.5">SP1</text><ellipse class="ph" cx="80" cy="380.5" rx="2" ry="1.8"/></g>
<g id="n-EGR1"><rect class="p" x="95" y="384" width="11" height="5"/><text class="t" x="100.5" y="387.5">EGR1</text></g>
<g id="n-CREB1"><rect class="p" x="105" y="374" width="12" height="5"/><text class="t" x="111" y="377.5">CREB1</text><ellipse class="ph" cx="119" cy="378.5" rx="2.5" ry="1.8"/></g>
<g id="n-REG1A"><rect class="p" x="55" y="405" width="10" height="4.5"/><text class="t" x="60" y="408.2">REG1A</text></g>
<g id="n-HDC"><rect class="p" x="72" y="405" width="13" height="4.5"/><text class="t" x="78.5" y="408.2">HDC</text></g>
<g id="n-CHGA"><rect class="p" x="94" y="406" width="13" height="5"/><text class="t" x="100.5" y="409.5">CHGA</text></g>
<g id="n-SERPIN"><rect class="gb" x="110" y="398" width="22" height="13"/><rect class="p" x="111.5" y="399.5" width="19" height="4.8"/><text class="t" x="121" y="402.9">SERPINB2</text><rect class="p" x="111.5" y="404.8" width="19" height="4.8"/><text class="t" x="121" y="408.2">SERPINE1</text></g>
<g id="n-GASTn"><rect class="p" x="131" y="413" width="11" height="6"/><text class="t" x="136.5" y="417">GAST</text></g>
<g id="n-PRKDn"><rect class="gb" x="163.5" y="356.5" width="17" height="12"/><rect class="p" x="164.5" y="357.3" width="15" height="5"/><text class="t" x="172" y="360.8">PRKD1</text><rect class="p" x="164.5" y="362.8" width="15" height="5"/><text class="t" x="172" y="366.3">PRKD2</text><ellipse class="ph" cx="162" cy="367.5" rx="3" ry="1.8"/><ellipse class="ph" cx="182.5" cy="360" rx="3" ry="1.8"/><ellipse class="ph" cx="182.5" cy="366" rx="3" ry="1.8"/></g>
<g id="n-PPARG"><rect class="p" x="151" y="385" width="12" height="5"/><text class="t" x="157" y="388.5">PPARG</text><ellipse class="ph" cx="165" cy="389.5" rx="2.5" ry="1.8"/></g>
<g id="n-JUNFOS"><rect class="p" x="195" y="357" width="11" height="5"/><text class="t" x="200.5" y="360.5">JUN</text><rect class="p" x="207" y="357" width="11" height="5"/><text class="t" x="212.5" y="360.5">FOS</text><ellipse class="ph" cx="194" cy="362.5" rx="2" ry="1.8"/></g>
<g id="n-MMP7"><rect class="p" x="197" y="397" width="11" height="5"/><text class="t" x="202.5" y="400.5">MMP7</text></g>
<g id="n-FHL2"><rect class="p" x="255" y="345" width="9" height="5"/><text class="t" x="259.5" y="348.5">FHL2</text><ellipse class="ph" cx="265.5" cy="349" rx="2" ry="1.8"/></g>
<g id="n-CTNNB1n"><rect class="p" x="236" y="360" width="17" height="5"/><text class="t" x="244.5" y="363.5">CTNNB1</text></g>
<g id="n-TCF4"><rect class="p" x="261" y="360" width="12" height="5"/><text class="t" x="267" y="363.5">TCF4</text></g>
<g id="n-JAG1"><rect class="p" x="242" y="398" width="11" height="5"/><text class="t" x="247.5" y="401.5">JAG1</text></g>
<g id="n-CD44"><rect class="p" x="260" y="398" width="11" height="5"/><text class="t" x="265.5" y="401.5">CD44</text></g>
<g id="n-CCND1"><rect class="p" x="225" y="414" width="16" height="5"/><text class="t" x="233" y="417.5">CCND1</text></g>
<g id="n-MYC"><rect class="p" x="250" y="414" width="11" height="5"/><text class="t" x="255.5" y="417.5">MYC</text></g>
<g id="n-ELAVL1n"><rect class="p" x="281" y="360" width="15" height="5"/><text class="t" x="288.5" y="363.5">ELAVL1</text></g>
<g id="n-PTGS2"><rect class="p" x="284" y="398" width="19" height="5"/><text class="t" x="293.5" y="401.5">PTGS2</text></g>
<g id="n-MEF2"><rect class="gd" x="324" y="375" width="17" height="18.5"/><rect class="c" x="325.5" y="376.5" width="14" height="5"/><text class="t" x="332.5" y="380">MEF2A</text><rect class="c" x="325.5" y="382.3" width="14" height="5"/><text class="t" x="332.5" y="385.8">MEF2C</text><rect class="c" x="325.5" y="388.1" width="14" height="5"/><text class="t" x="332.5" y="391.6">MEF2D</text></g>
<g id="n-E2F1"><rect class="p" x="351" y="414" width="10" height="5"/><text class="t" x="356" y="417.5">E2F1</text></g>
<g id="n-VEGFA"><rect class="p" x="375" y="414" width="13" height="5"/><text class="t" x="381.5" y="417.5">VEGFA</text></g>
<g id="n-IRF1"><rect class="p" x="393" y="414" width="10" height="5"/><text class="t" x="398" y="417.5">IRF1</text></g>
<g id="n-STAT3n"><rect class="p" x="466" y="366" width="12" height="5"/><text class="t" x="472" y="369.5">STAT3</text><ellipse class="ph" cx="461.5" cy="364.5" rx="3" ry="1.8"/><ellipse class="ph" cx="461.5" cy="369.5" rx="3" ry="1.8"/></g>
<g id="n-BIRC5b"><rect class="p" x="454" y="398" width="13" height="5"/><text class="t" x="460.5" y="401.5">BIRC5</text></g>
<g id="n-BCL2L1"><rect class="p" x="469" y="398" width="15" height="5"/><text class="t" x="476.5" y="401.5">BCL2L1</text></g>
<g id="n-IL2"><rect class="p" x="482" y="413" width="9" height="5"/><text class="t" x="486.5" y="416.5">IL2</text></g>
<g id="n-RELAn"><rect class="p" x="504" y="351" width="15" height="5"/><text class="t" x="511.5" y="354.5">RELA</text><ellipse class="ph" cx="519.5" cy="356.5" rx="2.5" ry="1.8"/></g>
<g id="n-NFKB1n"><rect class="c" x="524" y="351" width="16" height="5"/><text class="t" x="532" y="354.5">NFKB1</text></g>
<g id="n-BIRC"><rect class="gb" x="504" y="397" width="15" height="12.5"/><rect class="p" x="505.5" y="398.3" width="12" height="4.8"/><text class="t" x="511.5" y="401.7">BIRC2</text><rect class="p" x="505.5" y="403.6" width="12" height="4.8"/><text class="t" x="511.5" y="407">BIRC3</text></g>
</g>

<g id="legend">
<rect x="561" y="108" width="94" height="139" fill="#fff" stroke="#666" stroke-width=".7"/>
<text x="616" y="114.5" font-family="Liberation Sans,Arial,sans-serif" font-size="3" font-weight="bold" fill="#2a2aa0" text-anchor="middle">LEGEND</text>
<rect class="p" x="565" y="121" width="14" height="5"/><text class="t" x="572" y="124.5">Ligand</text>
<path class="s" d="M572,126V130.5"/><circle cx="572" cy="134.5" r="4" fill="#ee1199" stroke="#aa0066" stroke-width=".4"/>
<path class="s" d="M588,120Q588,127 593,127Q598,127 598,120M593,127V132.5"/>
<rect class="p" x="584" y="132.5" width="19" height="5"/><text class="t" x="593.5" y="136">Receptor</text>
<rect class="p" x="607" y="121" width="15" height="5"/><text class="t" x="614.5" y="124.5">Protein</text>
<rect class="gb" x="626" y="121" width="14" height="5"/><text class="t" x="633" y="124.5">mRNA</text>
<rect x="608" y="132" width="30" height="5" rx="2.5" fill="#d77ed7" stroke="#555" stroke-width=".4"/><text class="t" x="623" y="135.5">Small molecule</text>
<path class="gr" d="M567,147H583" marker-end="url(#ag)"/><text class="lg" x="589" y="148">Protein-protein interaction</text>
<path class="gr" d="M567,152.5H583" stroke-dasharray="2 .8" marker-end="url(#ag)"/><text class="lg" x="589" y="153.5">Protein-protein dissociation</text>
<path class="d" d="M567,158H583" marker-end="url(#ab)"/><text class="lg" x="589" y="159">Leads to through unknown mechanism</text>
<path class="s" d="M565,165H575M575,161.5V168.5"/><path class="s" d="M577,165V162H582" marker-end="url(#as)"/><text class="lg" x="589" y="166">Positive regulation of gene expression</text>
<path class="s" d="M565,172.5H575M575,169V176M577,172.5V169.5H581.5M582,168.2V170.8"/><text class="lg" x="589" y="173.5">Negative regulation of gene expression</text>
<path class="s" d="M573,181A2.6,2.6 0 1,1 576,181.5" marker-end="url(#as)"/><text class="lg" x="589" y="180">Auto catalysis</text>
<path class="bu" d="M567,185.5H583" marker-end="url(#au)"/><text class="lg" x="589" y="186.5">Phosphorylation</text>
<path class="mgl" d="M567,191.5H583" marker-end="url(#am)"/><text class="lg" x="589" y="192.5">Ubiquitination</text>
<path class="rd" d="M567,198H583" marker-end="url(#tr)"/><text class="lg" x="589" y="199">Inhibition</text>
<path class="cy" d="M567,205H583" marker-end="url(#ac)"/><text class="lg" x="589" y="206">Translocation</text>
<rect class="c" x="567" y="210" width="15" height="5"/><text class="t" x="574.5" y="213.5">Protein</text><text class="lg" x="589" y="213.5">Induced activation</text>
<rect class="p" x="567" y="219" width="15" height="5"/><text class="t" x="574.5" y="222.5">Protein</text><circle cx="583.5" cy="223.5" r="1.8" fill="#fff" stroke="#555" stroke-width=".5"/><text class="lg" x="589" y="222.5">Induced catalysis</text>
<text class="cn" x="578" y="232">PM</text><text class="lg" x="589" y="232">Plasma membrane</text>
<text class="cn" x="578" y="238">CY</text><text class="lg" x="589" y="238">Cytoplasm</text>
<text class="cn" x="578" y="244">NU</text><text class="lg" x="589" y="244">Nucleus</text>
</g>
</svg>
